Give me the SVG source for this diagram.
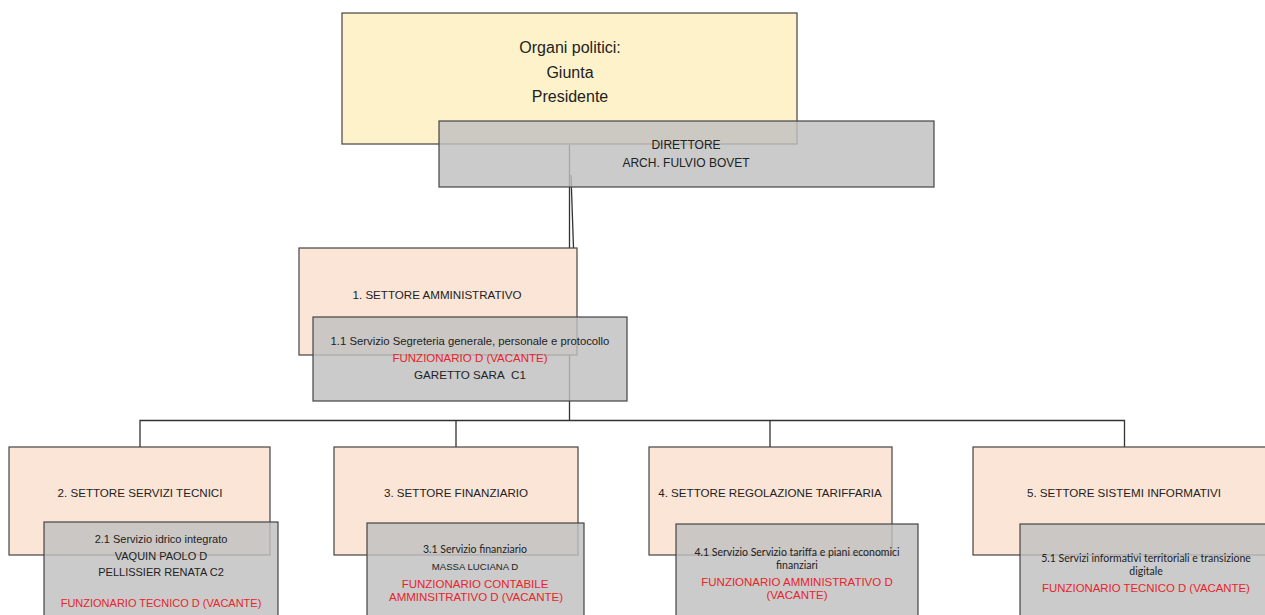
<svg xmlns="http://www.w3.org/2000/svg" width="1265" height="615" viewBox="0 0 1265 615">
<style>
.conn{fill:none;stroke:#333;stroke-width:1.3}
.org{fill:#fef2cb;stroke:#444;stroke-width:1.2}
.set{fill:#fbe5d6;stroke:#444;stroke-width:1.2}
.srv{fill:#bfbfbf;fill-opacity:0.82;stroke:#444;stroke-width:1.2}
text{font-family:"Liberation Sans",Arial,sans-serif;font-size:11.6px;fill:#222;text-anchor:middle}
.hd{font-size:12px}
.big{font-size:16px}
.red{fill:#e8242a;font-size:11.5px}
.sm{font-size:11px}
.cal{font-family:Lato,"Open Sans",sans-serif;font-size:10.5px}
.cap{font-family:"Liberation Sans",Arial,sans-serif;font-size:9.6px}
</style>
<rect width="1265" height="615" fill="#fff"/>
<g id="connectors">
<path class="conn" d="M569.5 145 V420.5"/>
<path class="conn" d="M571 175 L573.5 248"/>
<path class="conn" d="M140 447 V420.5 H1124.5 V447 M456 420.5 V447 M770 420.5 V447"/>
</g>
<g id="organi">
<rect class="org" x="342" y="13" width="455" height="131"/>
<text class="big" x="570" y="53">Organi politici:</text>
<text class="big" x="570" y="78">Giunta</text>
<text class="big" x="570" y="102">Presidente</text>
</g>
<g id="direttore">
<rect class="srv" x="439" y="121" width="495" height="66"/>
<text class="hd" x="686" y="149">DIRETTORE</text>
<text class="hd" x="686" y="167">ARCH. FULVIO BOVET</text>
</g>
<g id="settore1">
<rect class="set" x="299" y="248" width="278" height="107"/>
<text x="437" y="299">1. SETTORE AMMINISTRATIVO</text>
</g>
<g id="servizio1">
<rect class="srv" x="313" y="317" width="314" height="84"/>
<text x="470" y="345" style="font-size:11.3px">1.1 Servizio Segreteria generale, personale e protocollo</text>
<text class="red" x="470" y="362">FUNZIONARIO D (VACANTE)</text>
<text x="470" y="379">GARETTO SARA&#160; C1</text>
</g>
<g id="settore2">
<rect class="set" x="9" y="447" width="261" height="108"/>
<text x="140" y="497">2. SETTORE SERVIZI TECNICI</text>
</g>
<g id="servizio2">
<rect class="srv" x="44" y="522" width="234" height="100"/>
<text class="sm" x="161" y="543">2.1 Servizio idrico integrato</text>
<text class="sm" x="161" y="560">VAQUIN PAOLO D</text>
<text class="sm" x="161" y="576">PELLISSIER RENATA C2</text>
<text class="red" x="161" y="607" style="font-size:11px">FUNZIONARIO TECNICO D (VACANTE)</text>
</g>
<g id="settore3">
<rect class="set" x="334" y="447" width="244" height="108"/>
<text x="456" y="497">3. SETTORE FINANZIARIO</text>
</g>
<g id="servizio3">
<rect class="srv" x="367" y="523" width="217" height="100"/>
<text class="cal" x="475" y="553">3.1 Servizio finanziario</text>
<text class="cap" x="475" y="570">MASSA LUCIANA D</text>
<text class="red" x="475" y="588">FUNZIONARIO CONTABILE</text>
<text class="red" x="476" y="601">AMMINSITRATIVO D (VACANTE)</text>
</g>
<g id="settore4">
<rect class="set" x="649" y="447" width="243" height="108"/>
<text x="770" y="497">4. SETTORE REGOLAZIONE TARIFFARIA</text>
</g>
<g id="servizio4">
<rect class="srv" x="676" y="524" width="242" height="100"/>
<text class="cal" x="797" y="556">4.1 Servizio Servizio tariffa e piani economici</text>
<text class="cal" x="797" y="569">finanziari</text>
<text class="red" x="797" y="586">FUNZIONARIO AMMINISTRATIVO D</text>
<text class="red" x="797" y="599">(VACANTE)</text>
</g>
<g id="settore5">
<rect class="set" x="973" y="447" width="300" height="108"/>
<text x="1124" y="497">5. SETTORE SISTEMI INFORMATIVI</text>
</g>
<g id="servizio5">
<rect class="srv" x="1020" y="524" width="260" height="100"/>
<text class="cal" x="1146" y="562">5.1 Servizi informativi territoriali e transizione</text>
<text class="cal" x="1146" y="575">digitale</text>
<text class="red" x="1146" y="592" style="font-size:11.4px">FUNZIONARIO TECNICO D (VACANTE)</text>
</g>
</svg>
